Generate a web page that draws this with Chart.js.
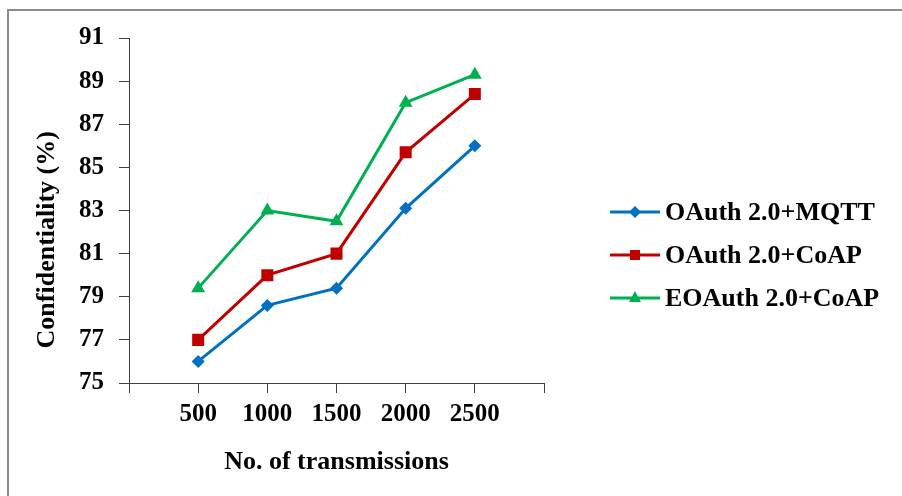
<!DOCTYPE html>
<html>
<head>
<meta charset="utf-8">
<script src="https://cdn.jsdelivr.net/npm/chart.js@4.4.1/dist/chart.umd.min.js"></script>
<style>
    html, body { margin: 0; padding: 0; background: #fff; }
    #wrap { position: relative; width: 902px; height: 496px; overflow: hidden; }
    #frame {
        position: absolute; left: 7px; top: 9px; right: -10px; bottom: -10px;
        border-left: 2px solid #8c8c8c; border-top: 2px solid #8c8c8c;
    }
    canvas#confChart { position: absolute; left: 0; top: 0; }
    #legend {
        position: absolute; left: 610px; top: 190px;
        font-family: 'Liberation Serif', 'Times New Roman', serif;
        font-weight: bold; font-size: 26px; color: #000;
    }
    #legend .item { display: flex; align-items: center; height: 43px; white-space: nowrap; }
    #legend .item canvas { margin-right: 5px; }
</style>
</head>
<body>
<div id="wrap">
    <div id="frame"></div>
    <canvas id="confChart" width="902" height="496"></canvas>
    <div id="legend"></div>
</div>
<script>
// dados
const transmissions = ['500', '1000', '1500', '2000', '2500'];
const mqttValues = [76.0, 78.6, 79.4, 83.1, 86.0];
const coapValues = [77.0, 80.0, 81.0, 85.7, 88.4];
const eoauthValues = [79.4, 83.0, 82.5, 88.0, 89.3];
const yTicks = [75, 77, 79, 81, 83, 85, 87, 89, 91];
const seriesNames = ['OAuth 2.0+MQTT', 'OAuth 2.0+CoAP', 'EOAuth 2.0+CoAP'];

const FONT = "'Liberation Serif', 'Times New Roman', serif";
const colors = ['#0070C0', '#C00000', '#00B050'];
const styles = ['rectRot', 'rect', 'triangle'];

// empty slots at both ends so the points sit inside the axis
const xLabels = [''].concat(transmissions, [' ']);
const toPoints = vals => transmissions.map((t, i) => ({ x: t, y: vals[i] }));

// legend symbol: short line with the marker in the middle
function legendSymbol(color, style) {
    const c = document.createElement('canvas');
    c.width = 50; c.height = 22;
    const g = c.getContext('2d');
    g.strokeStyle = color; g.fillStyle = color; g.lineWidth = 3;
    g.beginPath(); g.moveTo(0, 11); g.lineTo(50, 11); g.stroke();
    const cx = 25, cy = 11;
    g.beginPath();
    if (style === 'rectRot') {
        g.moveTo(cx, cy - 6); g.lineTo(cx + 6, cy); g.lineTo(cx, cy + 6); g.lineTo(cx - 6, cy);
    } else if (style === 'rect') {
        g.rect(cx - 5, cy - 5, 10, 10);
    } else {
        g.moveTo(cx, cy - 7); g.lineTo(cx + 6, cy + 4); g.lineTo(cx - 6, cy + 4);
    }
    g.closePath(); g.fill();
    return c;
}

// legenda em HTML, montada a partir dos datasets
const htmlLegend = {
    id: 'htmlLegend',
    afterUpdate(chart) {
        const box = document.getElementById('legend');
        box.innerHTML = '';
        chart.data.datasets.forEach(ds => {
            const row = document.createElement('div');
            row.className = 'item';
            row.appendChild(legendSymbol(ds.borderColor, ds.pointStyle));
            const txt = document.createElement('span');
            txt.textContent = ds.label;
            row.appendChild(txt);
            box.appendChild(row);
        });
    }
};

const makeSet = (i, vals, radius) => ({
    label: seriesNames[i],
    data: toPoints(vals),
    borderColor: colors[i],
    backgroundColor: colors[i],
    borderWidth: 3,
    pointStyle: styles[i],
    pointRadius: radius,
    pointHoverRadius: radius,
    pointBorderWidth: 0,
    tension: 0
});

new Chart(document.getElementById('confChart'), {
    type: 'line',
    data: {
        labels: xLabels,
        datasets: [
            makeSet(0, mqttValues, 6.5),
            makeSet(1, coapValues, 8.5),
            makeSet(2, eoauthValues, 8)
        ]
    },
    options: {
        responsive: false,
        animation: false,
        layout: { padding: { left: 0, top: 38, right: 902 - 544, bottom: 0 } },
        plugins: {
            tooltip: { enabled: false },
            legend: { display: false }
        },
        scales: {
            x: {
                type: 'category',
                offset: false,
                afterFit: s => { s.height = 113; },
                border: { color: '#404040', width: 1 },
                grid: { drawOnChartArea: false, drawTicks: true, tickLength: 10, color: '#404040' },
                ticks: {
                    autoSkip: false, maxRotation: 0, padding: 7, color: '#000',
                    font: { family: FONT, size: 25, weight: 'bold' }
                },
                title: {
                    display: true, text: 'No. of transmissions', color: '#000',
                    font: { family: FONT, size: 26, weight: 'bold' },
                    padding: { top: 18, bottom: 18 }
                }
            },
            y: {
                min: 75, max: 91,
                afterFit: s => { s.width = 129; },
                afterBuildTicks: s => { s.ticks = yTicks.map(v => ({ value: v })); },
                border: { color: '#404040', width: 1 },
                grid: { drawOnChartArea: false, drawTicks: true, tickLength: 10, color: '#404040' },
                ticks: {
                    padding: 15, color: '#000',
                    font: { family: FONT, size: 25, weight: 'bold' }
                },
                title: {
                    display: true, text: 'Confidentiality (%)' + '\u00a0'.repeat(9), color: '#000',
                    font: { family: FONT, size: 26, weight: 'bold' },
                    padding: { top: 32, bottom: 32 }
                }
            }
        }
    },
    plugins: [htmlLegend]
});
</script>
</body>
</html>
